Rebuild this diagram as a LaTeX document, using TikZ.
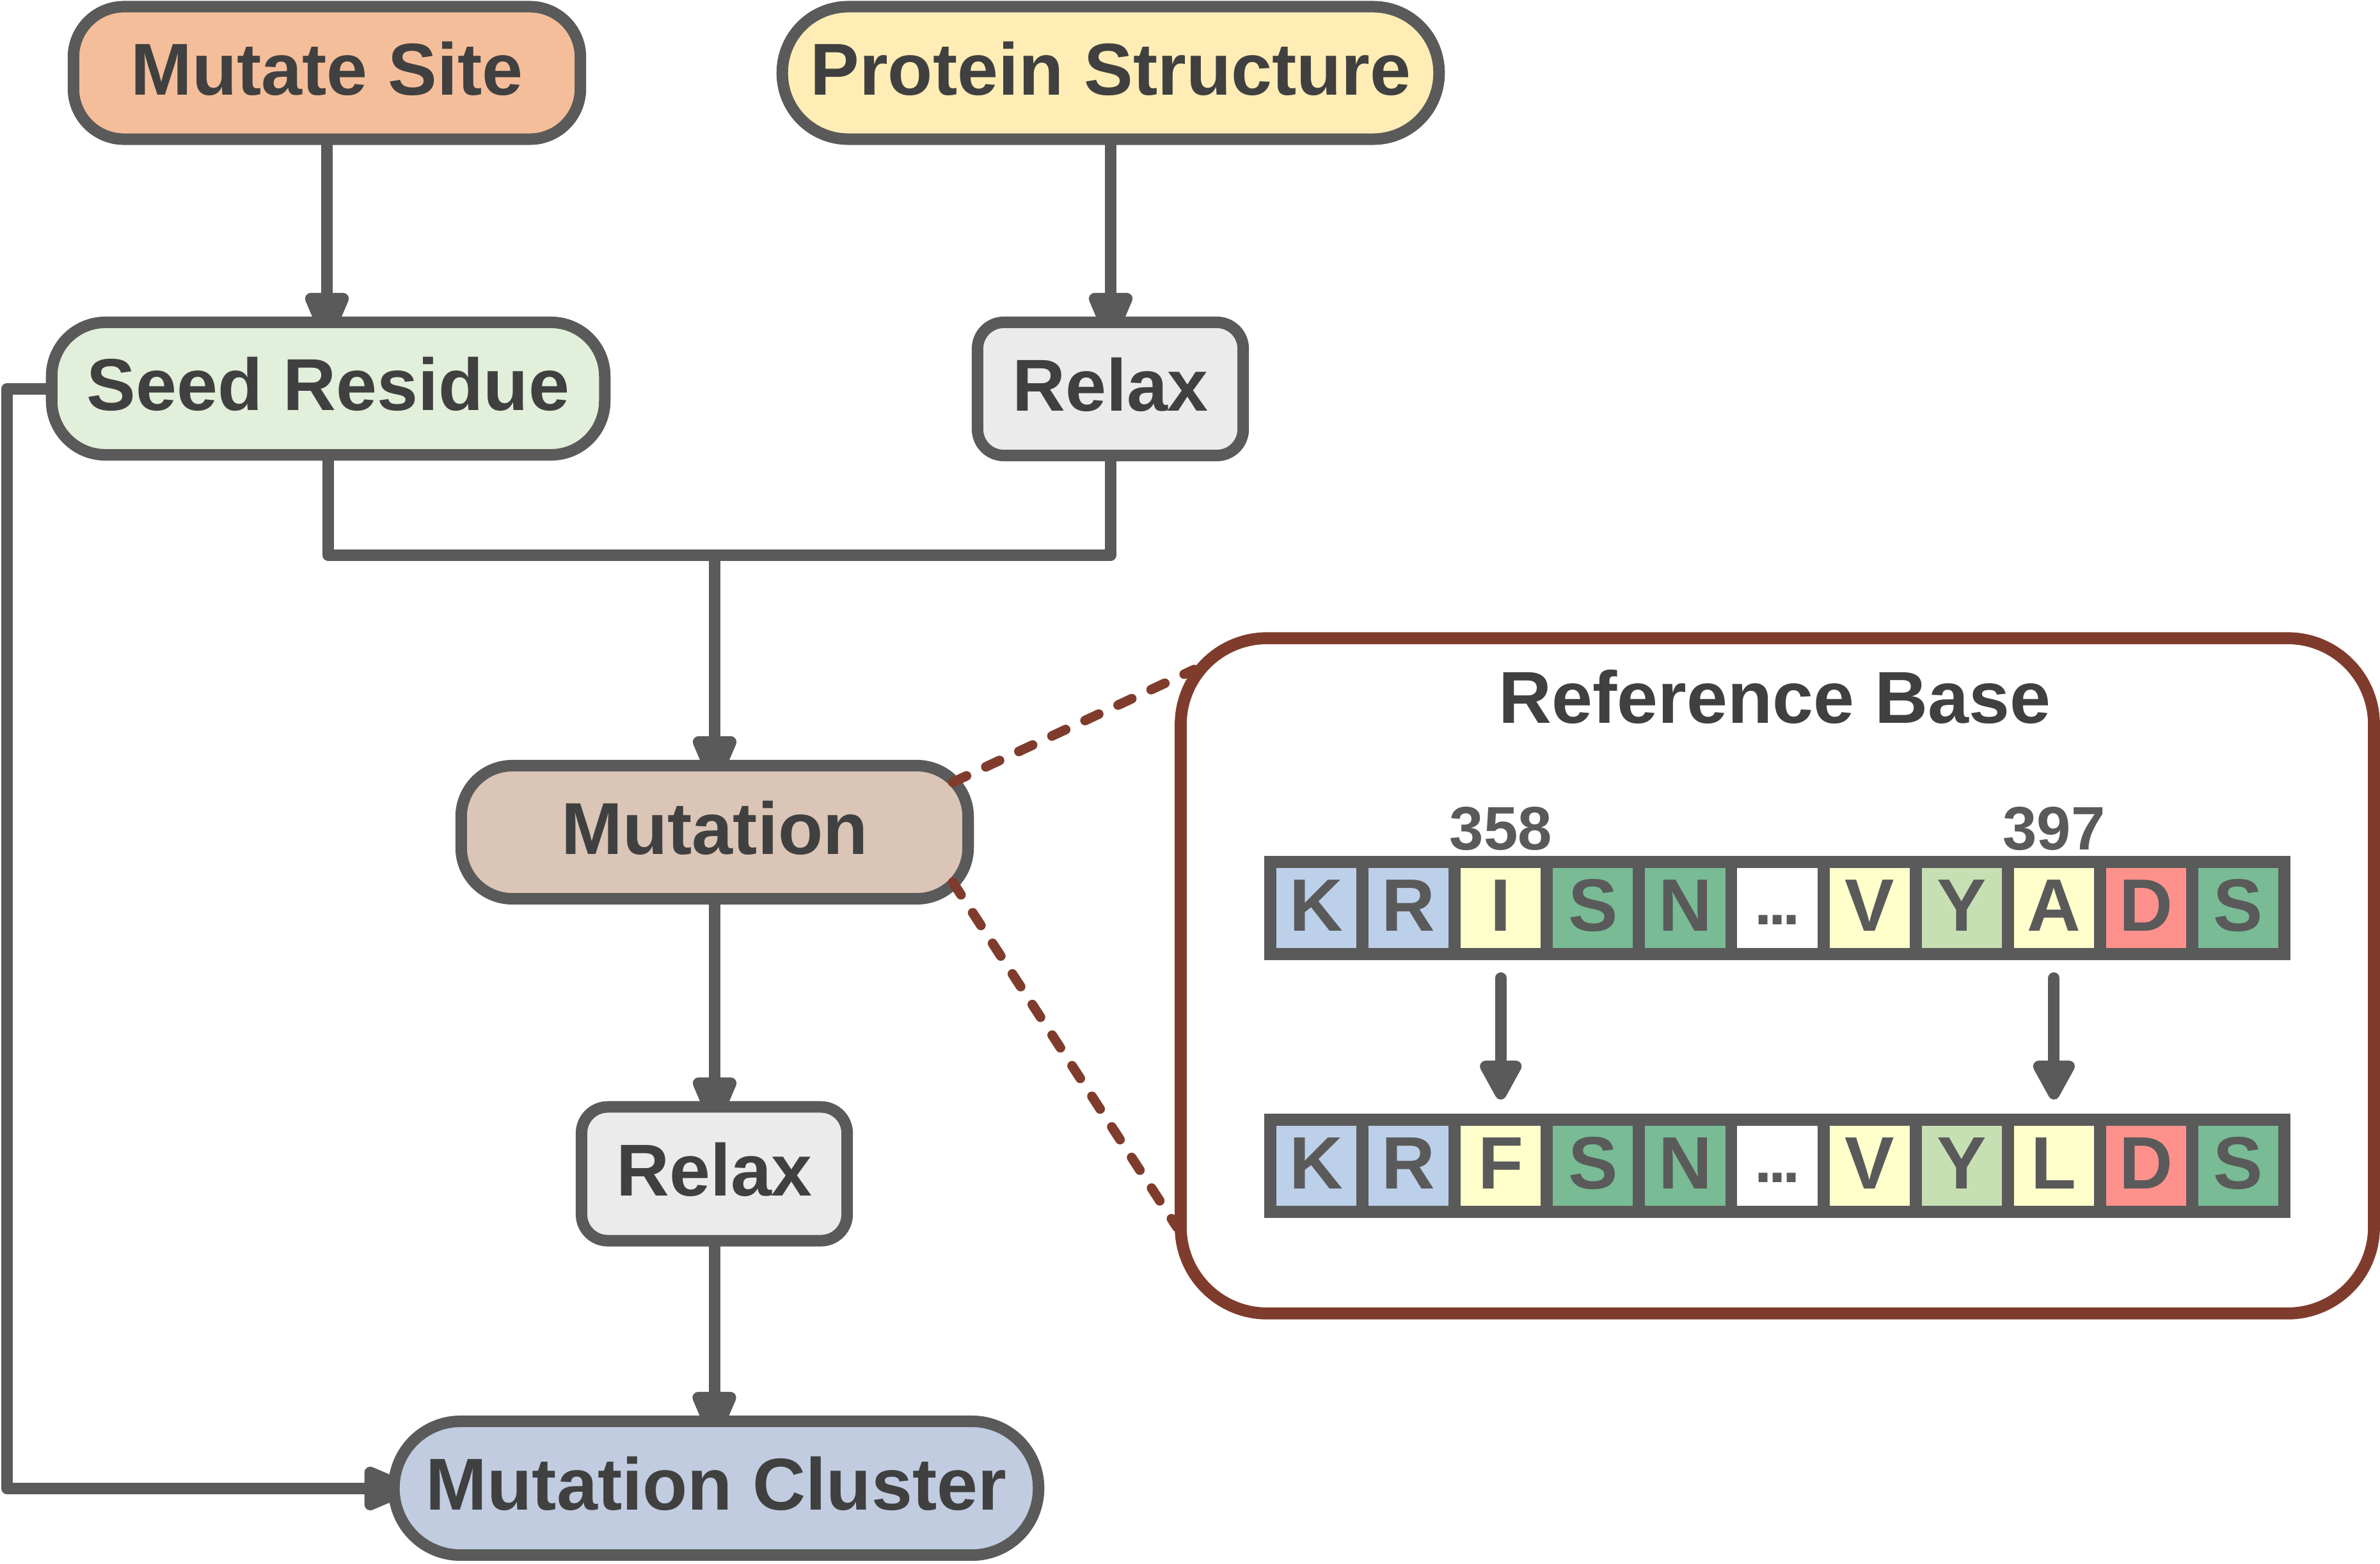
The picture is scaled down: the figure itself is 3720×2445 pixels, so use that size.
\documentclass[tikz,border=0pt]{standalone}
\usepackage{fontspec}
\setmainfont{Liberation Sans}
\usetikzlibrary{arrows.meta,calc}
\pgfdeclarelayer{bg}
\pgfsetlayers{bg,main}
\definecolor{lg}{HTML}{5A5A5A}
\definecolor{tx}{HTML}{404040}
\definecolor{brn}{HTML}{7F3C2C}
\definecolor{fsite}{HTML}{F5BE9A}
\definecolor{fprot}{HTML}{FFEDB5}
\definecolor{fseed}{HTML}{E2EFDA}
\definecolor{frelax}{HTML}{EBEBEB}
\definecolor{fmut}{HTML}{DAC5B6}
\definecolor{fclus}{HTML}{C1CCE0}
\definecolor{cb}{HTML}{BDD0EA}
\definecolor{cy}{HTML}{FFFFCC}
\definecolor{cg}{HTML}{78BB95}
\definecolor{cl}{HTML}{C6E0B4}
\definecolor{cr}{HTML}{FF918C}
\definecolor{cw}{HTML}{FFFFFF}
\newcommand{\bigfont}{\bfseries\fontsize{32.7}{39}\selectfont}
\newcommand{\seqdots}{{\fontsize{28}{30}\selectfont\raisebox{0.1cm}{.\kern-0.05cm.\kern-0.05cm.}}}
\begin{document}
\begin{tikzpicture}[x=0.01cm,y=-0.01cm,
  box/.style={draw=lg, line width=0.18cm, inner sep=0pt, outer sep=0pt, text=tx, font=\bigfont, text height=0.83cm, text depth=0.15cm},
  conn/.style={draw=lg, line width=0.18cm, line join=round},
  arr/.style={conn, -{Triangle[length=0.93cm,width=0.72cm,round]}, shorten >=-0.31cm},
  seqarr/.style={draw=lg, line width=0.18cm, line cap=round, -{Triangle[length=0.72cm,width=0.72cm,round]}},
  cell/.style={rectangle, inner sep=0pt, outer sep=0pt, minimum width=1.251cm, minimum height=1.25cm, text=lg, font=\bfseries\fontsize{33}{40}\selectfont, text height=0.71cm, text depth=0pt},
  numlab/.style={anchor=base, text=lg, font=\bfseries\fontsize{27.3}{32}\selectfont, inner sep=0pt},
  zoomline/.style={draw=brn, line width=0.15cm, line cap=round, dash pattern=on 0.236cm off 0.334cm}
]
\useasboundingbox (0,0) rectangle (3720,2445);

% flow nodes
\node[box, fill=fsite, minimum width=7.92cm, minimum height=2.07cm, rounded corners=0.79cm] (site) at (511,114) {Mutate Site};
\node[box, fill=fprot, minimum width=10.26cm, minimum height=2.07cm, rounded corners=1.03cm] (prot) at (1736,114) {Protein Structure};
\node[box, fill=fseed, minimum width=8.64cm, minimum height=2.07cm, rounded corners=0.84cm] (seed) at (513,607.5) {Seed Residue};
\node[box, fill=frelax, minimum width=4.15cm, minimum height=2.08cm, rounded corners=0.41cm] (relax1) at (1735.5,608) {Relax};
\node[box, fill=fmut, minimum width=7.92cm, minimum height=2.08cm, rounded corners=0.80cm] (mut) at (1117,1301) {Mutation};
\node[box, fill=frelax, minimum width=4.15cm, minimum height=2.09cm, rounded corners=0.41cm] (relax2) at (1116.5,1835) {Relax};
\node[box, fill=fclus, minimum width=10.07cm, minimum height=2.09cm, rounded corners=1.04cm] (clus) at (1119.5,2326.5) {Mutation Cluster};

% reference base panel
\node[draw=brn, line width=0.187cm, rounded corners=1.35cm, minimum width=18.64cm, minimum height=10.55cm, inner sep=0pt, outer sep=0pt, fill=white] (ref) at (2778,1525.5) {};
\node[anchor=base, text=tx, font=\bigfont, inner sep=0pt] (title) at (2774,1130) {Reference Base};

\fill[lg] (1976,1338) rectangle (3580,1501);
\fill[lg] (1976,1741) rectangle (3580,1904);
\foreach \i/\l/\c in {0/K/cb,1/R/cb,2/I/cy,3/S/cg,4/N/cg,5/\seqdots/cw,6/V/cy,7/Y/cl,8/A/cy,9/D/cr,10/S/cg}
  \node[cell, fill=\c] (a\i) at ({2057.55+\i*144.1},1419.5) {\l};
\foreach \i/\l/\c in {0/K/cb,1/R/cb,2/F/cy,3/S/cg,4/N/cg,5/\seqdots/cw,6/V/cy,7/Y/cl,8/L/cy,9/D/cr,10/S/cg}
  \node[cell, fill=\c] (b\i) at ({2057.55+\i*144.1},1822.5) {\l};

\node[numlab] (n358) at (2345.75,1328) {358};
\node[numlab] (n397) at (3210.35,1328) {397};

\draw[seqarr, shorten <=0.47cm, shorten >=0.41cm] (a2.south) -- (b2.north);
\draw[seqarr, shorten <=0.47cm, shorten >=0.41cm] (a8.south) -- (b8.north);

% zoom lines
\draw[zoomline] ($(mut.north east)+(-24,26)$) -- ($(ref.north west)+(21,49)$);
\draw[zoomline] ($(mut.south east)+(-24,-26)$) -- ($(ref.south west)+(-6,-135)$);

% connectors behind nodes
\begin{pgfonlayer}{bg}
\fill[white] (0,0) rectangle (3720,2445);
\coordinate (j) at (1117,868);
\coordinate (loop) at (11,2327);
\draw[arr] (site.south) -- (site.south |- seed.north);
\draw[arr] (prot.south) -- (prot.south |- relax1.north);
\draw[conn] (seed.south) |- (j) -| (relax1.south);
\draw[arr] (j) -- (j |- mut.north);
\draw[arr] (mut.south) -- (mut.south |- relax2.north);
\draw[arr] (relax2.south) -- (relax2.south |- clus.north);
\draw[arr] (seed.west) -| (loop) -- (loop -| clus.west);
\end{pgfonlayer}
\end{tikzpicture}
\end{document}
